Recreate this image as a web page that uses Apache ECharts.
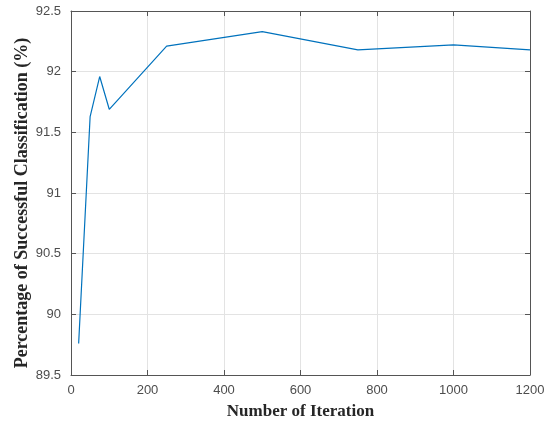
<!DOCTYPE html>
<html><head><meta charset="utf-8">
<script src="https://cdn.jsdelivr.net/npm/echarts@6/dist/echarts.min.js"></script>
<style>html,body{margin:0;padding:0;background:#fff}#c{width:554px;height:422px}</style>
</head><body><div id="c"></div>
<script>
const iterations = [20, 50, 75, 100, 250, 500, 750, 1000, 1200];
const accuracy = [89.76, 91.63, 91.96, 91.69, 92.21, 92.33, 92.18, 92.22, 92.18];
const xTicks = [0, 200, 400, 600, 800, 1000, 1200];
const yTicks = [89.5, 90, 90.5, 91, 91.5, 92, 92.5];

const chart = echarts.init(document.getElementById('c'), null, {renderer: 'canvas'});
const axisColor = '#555555';
const labelFont = {color: '#4d4d4d', fontFamily: 'Liberation Sans, Arial, sans-serif', fontSize: 13};
const titleFont = {color: '#262626', fontFamily: 'Liberation Serif, Times New Roman, serif', fontSize: 17, fontWeight: 'bold'};
const yTitleFont = Object.assign({}, titleFont, {fontSize: 18, padding: [0, 20, 0, 0]});
chart.setOption({
  animation: false,
  grid: {left: 71, top: 11, width: 459, height: 364, show: false, outerBoundsMode: 'none', containLabel: false},
  xAxis: [{
    type: 'value', min: xTicks[0], max: xTicks[xTicks.length - 1], interval: 200, position: 'bottom',
    name: 'Number of Iteration', nameLocation: 'middle', nameGap: 28, nameMoveOverlap: false, nameTextStyle: titleFont,
    axisLine: {show: true, lineStyle: {color: axisColor, width: 1}},
    axisTick: {show: true, inside: true, length: 5, lineStyle: {color: axisColor}},
    axisLabel: Object.assign({margin: 9, formatter: v => String(v)}, labelFont),
    splitLine: {show: true, lineStyle: {color: '#e3e3e3', width: 1}}
  }, {
    type: 'value', min: xTicks[0], max: xTicks[xTicks.length - 1], interval: 200, position: 'top',
    axisLine: {show: true, onZero: false, lineStyle: {color: axisColor, width: 1}},
    axisTick: {show: true, inside: true, length: 5, lineStyle: {color: axisColor}},
    axisLabel: {show: false}, splitLine: {show: false}
  }],
  yAxis: [{
    type: 'value', min: yTicks[0], max: yTicks[yTicks.length - 1], interval: 0.5, position: 'left',
    name: 'Percentage of Successful Classification (%)', nameLocation: 'middle', nameGap: 40, nameMoveOverlap: false, nameTextStyle: yTitleFont,
    axisLine: {show: true, lineStyle: {color: axisColor, width: 1}},
    axisTick: {show: true, inside: true, length: 5, lineStyle: {color: axisColor}},
    axisLabel: Object.assign({margin: 10, formatter: v => String(v)}, labelFont),
    splitLine: {show: true, lineStyle: {color: '#e3e3e3', width: 1}}
  }, {
    type: 'value', min: yTicks[0], max: yTicks[yTicks.length - 1], interval: 0.5, position: 'right',
    axisLine: {show: true, onZero: false, lineStyle: {color: axisColor, width: 1}},
    axisTick: {show: true, inside: true, length: 5, lineStyle: {color: axisColor}},
    axisLabel: {show: false}, splitLine: {show: false}
  }],
  series: [{
    type: 'line', xAxisIndex: 0, yAxisIndex: 0,
    data: iterations.map((x, i) => [x, accuracy[i]]),
    showSymbol: false, symbol: 'none',
    lineStyle: {color: '#0072BD', width: 1.2}
  }]
});
</script></body></html>
